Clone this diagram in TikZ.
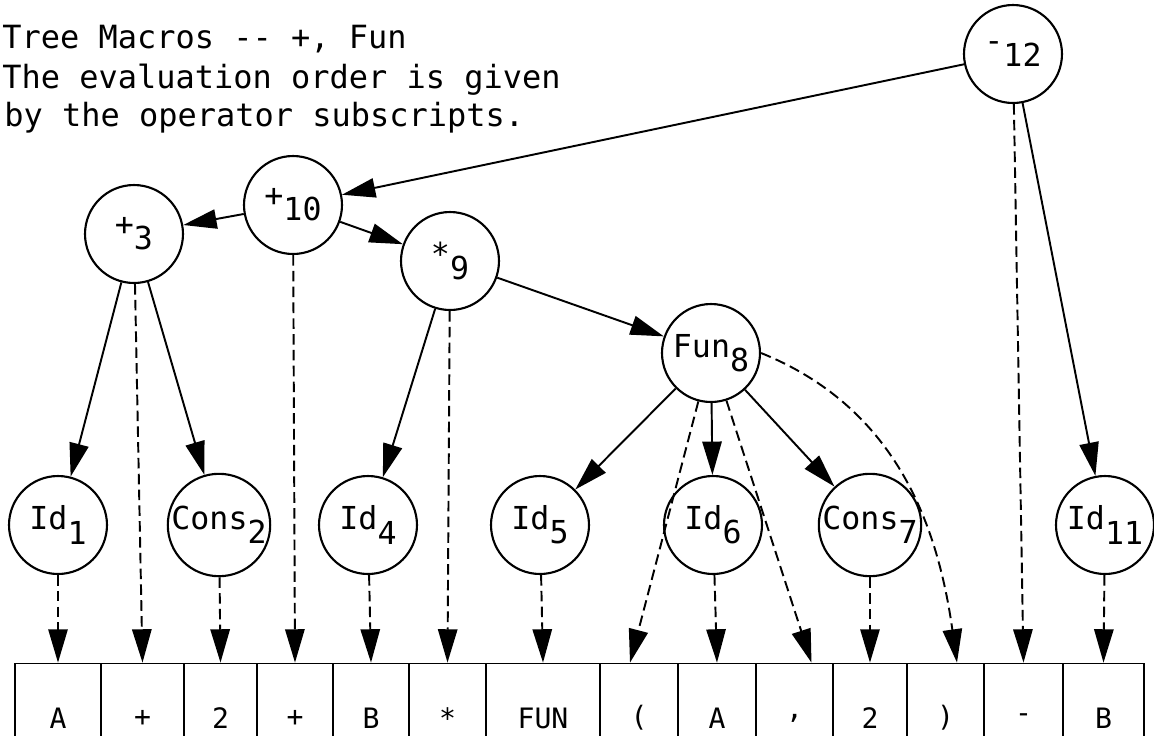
\documentclass[tikz,border=0pt]{standalone}
\usepackage{fontspec}
\setmonofont{DejaVu Sans Mono}
\usetikzlibrary{arrows.meta}

% operator with its evaluation number set low
\newcommand{\oplab}[2]{#1\raisebox{-0.45em}{#2}}

\tikzset{
  opnode/.style={circle, draw, line width=1.2pt, minimum size=1.96cm, inner sep=0pt,
    font=\ttfamily\fontsize{18}{20}\selectfont},
  cell/.style={draw, line width=1pt, minimum height=2.18cm, inner sep=0pt,
    font=\ttfamily\fontsize{16}{18}\selectfont},
  link/.style={line width=1.1pt, -{Triangle[length=19pt,width=11pt]}},
  dep/.style={link, dash pattern=on 6pt off 3pt},
  txt/.style={anchor=base west, inner sep=0pt, font=\ttfamily\fontsize{18.2}{20}\selectfont}
}

\begin{document}
\begin{tikzpicture}[x=0.02cm, y=-0.02cm]
\useasboundingbox (0,0) rectangle (1154,735);

\node[txt] (title) at (2,48) {Tree Macros -- +, Fun};
\node[txt] (note1) at (2,88) {The evaluation order is given};
\node[txt] (note2) at (4,126) {by the operator subscripts.};

% tree
\node[opnode] (m12)   at (1013,54)  {\oplab{-}{12}};
\node[opnode] (p10)   at (293,205)  {\oplab{+}{10}};
\node[opnode] (p3)    at (134,234)  {\oplab{+}{3}};
\node[opnode] (t9)    at (450,261)  {\oplab{*}{9}};
\node[opnode] (fun8)  at (711,353)  {\oplab{Fun}{8}};
\node[opnode] (id1)   at (58,525)   {\oplab{Id}{1}};
\node[opnode] (cons2) at (219,525)  {\oplab{Cons}{2}};
\node[opnode] (id4)   at (368,525)  {\oplab{Id}{4}};
\node[opnode] (id5)   at (540,525)  {\oplab{Id}{5}};
\node[opnode] (id6)   at (713,525)  {\oplab{Id}{6}};
\node[opnode] (cons7) at (870,525)  {\oplab{Cons}{7}};
\node[opnode] (id11)  at (1105,525) {\oplab{Id}{11}};

% token string
\foreach \a/\b/\t [count=\i] in {15/101/A, 101/184/+, 184/257/2, 257/333/+,
    333/409/B, 409/486/*, 486/600/FUN, 600/678/(, 678/756/A, 756/833/{,},
    833/907/2, 907/984/), 984/1063/-, 1063/1144/B}
  \node[cell, minimum width={(\b-\a)*0.02cm}] (c\i) at ({(\a+\b)/2},718) {\t};

\foreach \s/\e in {m12/p10, m12/id11, p10/p3, p10/t9, p3/id1, p3/cons2,
    t9/id4, t9/fun8, fun8/id5, fun8/id6, fun8/cons7}
  \draw[link] (\s) -- (\e);

\foreach \s/\e in {id1/c1, p3/c2, cons2/c3, p10/c4, id4/c5, t9/c6, id5/c7,
    id6/c9, cons7/c11, m12/c13, id11/c14}
  \draw[dep] (\s) -- (\e.north);
\draw[dep] (fun8) -- ([xshift=-0.18cm]c8.north);
\draw[dep] (fun8) -- ([xshift=0.34cm]c10.north);
\draw[dep] (fun8.east) to[out=-22, in=98] ([xshift=0.23cm]c12.north);
\end{tikzpicture}
\end{document}
